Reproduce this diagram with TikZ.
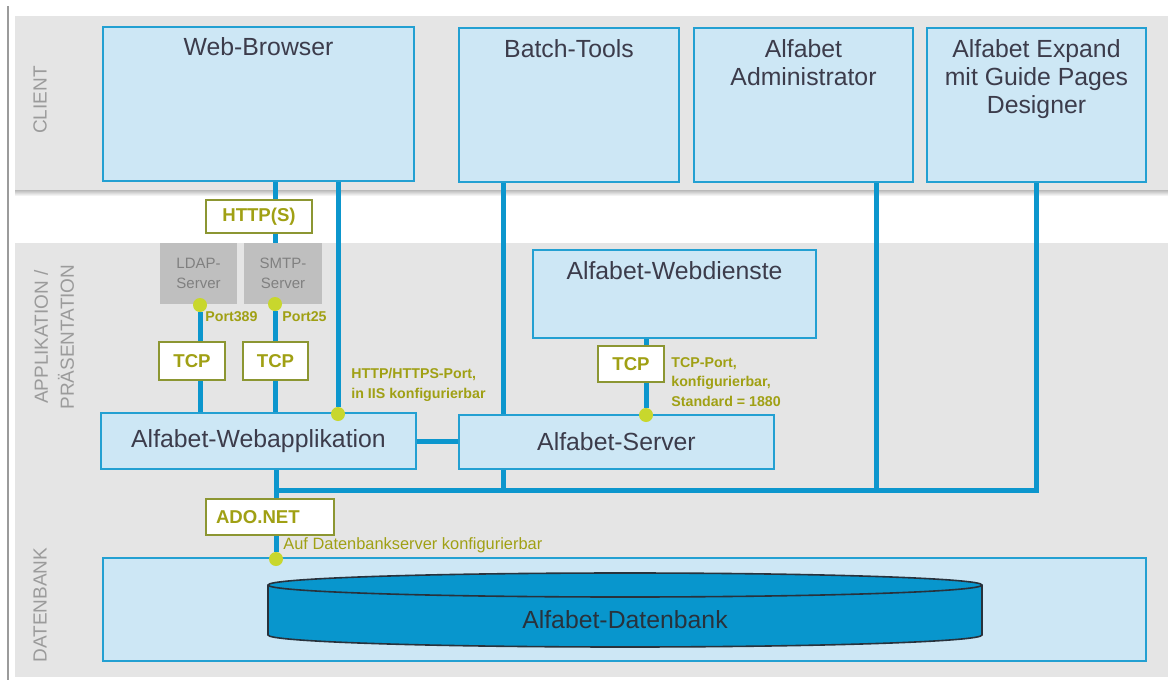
\documentclass[tikz,border=0pt]{standalone}
\usepackage{fontspec}
\setmainfont{Liberation Sans}
\usetikzlibrary{backgrounds}

\definecolor{bandcol}{RGB}{229,229,229}
\definecolor{shadowcol}{RGB}{185,185,185}
\definecolor{boxfill}{RGB}{205,231,245}
\definecolor{boxline}{RGB}{35,160,210}
\definecolor{conncol}{RGB}{12,150,205}
\definecolor{dbfill}{RGB}{8,150,205}
\definecolor{dbline}{RGB}{40,50,60}
\definecolor{graybox}{RGB}{191,191,191}
\definecolor{graytext}{RGB}{128,128,128}
\definecolor{tagline}{RGB}{140,150,50}
\definecolor{tagtext}{RGB}{160,160,20}
\definecolor{dotcol}{RGB}{200,215,45}
\definecolor{textdark}{RGB}{60,60,75}
\definecolor{seccol}{RGB}{155,155,155}

\tikzset{
  boxstyle/.style={draw=boxline, fill=boxfill, line width=1pt, inner sep=0pt},
  boxtext/.style={font=\fontsize{12.4}{14}\selectfont, text=textdark, align=center, inner sep=0pt},
  tag/.style={draw=tagline, fill=white, line width=1pt, font=\bfseries\fontsize{9.3}{11}\selectfont, text=tagtext, inner sep=0pt},
  srv/.style={fill=graybox, font=\fontsize{7.5}{10}\selectfont, text=graytext, align=center, inner sep=0pt},
  portdot/.style={circle, fill=dotcol, inner sep=0pt, minimum size=7pt},
  note/.style={font=\bfseries\fontsize{7.1}{9.7}\selectfont, text=tagtext, align=left, inner sep=0pt, anchor=west},
  conn/.style={draw=conncol, line width=2.5pt},
  seclabel/.style={rotate=90, font=\fontsize{9.5}{13}\selectfont, text=seccol, align=center, inner sep=0pt},
}

\begin{document}
\begin{tikzpicture}[x=0.5pt, y=-0.5pt]
  \useasboundingbox (0,0) rectangle (1168,680);

  % bands
  \begin{scope}[on background layer]
    \fill[bandcol] (15,16) rectangle (1168,190);
    \shade[top color=shadowcol, bottom color=white] (15,190) rectangle (1168,196);
    \fill[bandcol] (15,243) rectangle (1168,677);
    \draw[seccol, line width=1pt] (8,6) -- (8,680);
  \end{scope}

  \node[seclabel] (client) at (40,100) {CLIENT};
  \node[seclabel] (app) at (54,337) {APPLIKATION /\\PRÄSENTATION};
  \node[seclabel] (dbank) at (40,605) {DATENBANK};

  % client boxes
  \node[boxstyle, minimum width=155.5pt, minimum height=77pt, label={[boxtext, anchor=north, yshift=-5.5pt]north:Web-Browser}] (WB) at (258.5,104) {};
  \node[boxstyle, minimum width=110pt, minimum height=77pt, label={[boxtext, anchor=north, yshift=-6pt]north:Batch-Tools}] (BT) at (569,105) {};
  \node[boxstyle, minimum width=109.5pt, minimum height=77pt, label={[boxtext, anchor=north, yshift=-6pt]north:{Alfabet\\Administrator}}] (AD) at (803.5,105) {};
  \node[boxstyle, minimum width=109.5pt, minimum height=77pt, label={[boxtext, anchor=north, yshift=-6pt]north:{Alfabet Expand\\mit Guide Pages\\Designer}}] (EX) at (1036.5,105) {};

  % application
  \node[boxstyle, minimum width=141.5pt, minimum height=44pt, label={[boxtext, anchor=north, yshift=-6pt]north:Alfabet-Webdienste}] (WD) at (674.5,294) {};
  \node[boxstyle, boxtext, draw=boxline, minimum width=157.5pt, minimum height=28pt] (WA) at (258.5,441) {Alfabet-Webapplikation};
  \node[boxstyle, boxtext, draw=boxline, minimum width=157.5pt, minimum height=27pt] (AS) at (616.5,442) {Alfabet-Server};

  \node[srv, minimum width=38.5pt, minimum height=30.5pt] (LDAP) at (198.5,273.5) {LDAP-\\Server};
  \node[srv, minimum width=39pt, minimum height=30.5pt] (SMTP) at (283,273.5) {SMTP-\\Server};

  \node[tag, minimum width=53pt, minimum height=16.5pt] (http) at (259,216.5) {HTTP(S)};
  \node[tag, minimum width=33pt, minimum height=19pt] (tcpA) at (192,361) {TCP};
  \node[tag, minimum width=32.5pt, minimum height=19pt] (tcpB) at (275.5,361) {TCP};
  \node[tag, minimum width=33pt, minimum height=18pt] (tcpC) at (631,364) {TCP};
  \node[tag, text width=54pt, inner xsep=5pt, align=left, minimum height=18pt] (ado) at (270,517) {ADO.NET};

  % database
  \node[boxstyle, minimum width=521.5pt, minimum height=51.5pt] (DBbox) at (624.5,609.5) {};
  \draw[fill=dbfill, draw=dbline, line width=0.8pt] (268,585) -- (268,635)
    arc[start angle=180, end angle=360, x radius=178.5pt, y radius=6pt] -- (982,585)
    arc[start angle=0, end angle=180, x radius=178.5pt, y radius=6pt] -- cycle;
  \draw[draw=dbline, line width=0.8pt] (268,585) arc[start angle=180, end angle=360, x radius=178.5pt, y radius=6pt];
  \node[boxtext, text=dbline] (DB) at (625,620) {Alfabet-Datenbank};

  % ports
  \node[portdot] (dotLDAP) at (200,305) {};
  \node[portdot] (dotSMTP) at (275,304) {};
  \node[portdot] (dotWA) at (338,414) {};
  \node[portdot] (dotAS) at (646,415) {};
  \node[portdot] (dotDB) at (276,559) {};

  \node[note] (p389) at (205,317) {Port389};
  \node[note] (p25) at (282,317) {Port25};
  \node[note] (httpnote) at (351,385) {HTTP/HTTPS-Port,\\in IIS konfigurierbar};
  \node[note] (tcpnote) at (671,382) {TCP-Port,\\konfigurierbar,\\Standard = 1880};
  \node[note, font=\fontsize{8.2}{10}\selectfont] (adonote) at (283,545) {Auf Datenbankserver konfigurierbar};

  \coordinate (busL) at (276,490);
  \coordinate (busR) at (1036,490);
  \coordinate (jBT) at (503,490);
  \coordinate (jAD) at (876,490);

  % connectors
  \begin{scope}[on background layer]
    \draw[conn] (WB.south -| dotSMTP) -- (SMTP.north -| dotSMTP);
    \draw[conn] (dotSMTP) -- (WA.north -| dotSMTP);
    \draw[conn] (dotLDAP) -- (WA.north -| dotLDAP);
    \draw[conn] (WB.south -| dotWA) -- (dotWA);
    \draw[conn] (BT.south -| jBT) -- (jBT);
    \draw[conn] (AD.south -| jAD) -- (jAD);
    \draw[conn] (EX.south -| busR) -- (busR) -- (busL);
    \draw[conn] (WA.south -| dotDB) -- (dotDB);
    \draw[conn] (WA.east) -- (WA.east -| AS.west);
    \draw[conn] (WD.south -| dotAS) -- (dotAS);
  \end{scope}
\end{tikzpicture}
\end{document}
